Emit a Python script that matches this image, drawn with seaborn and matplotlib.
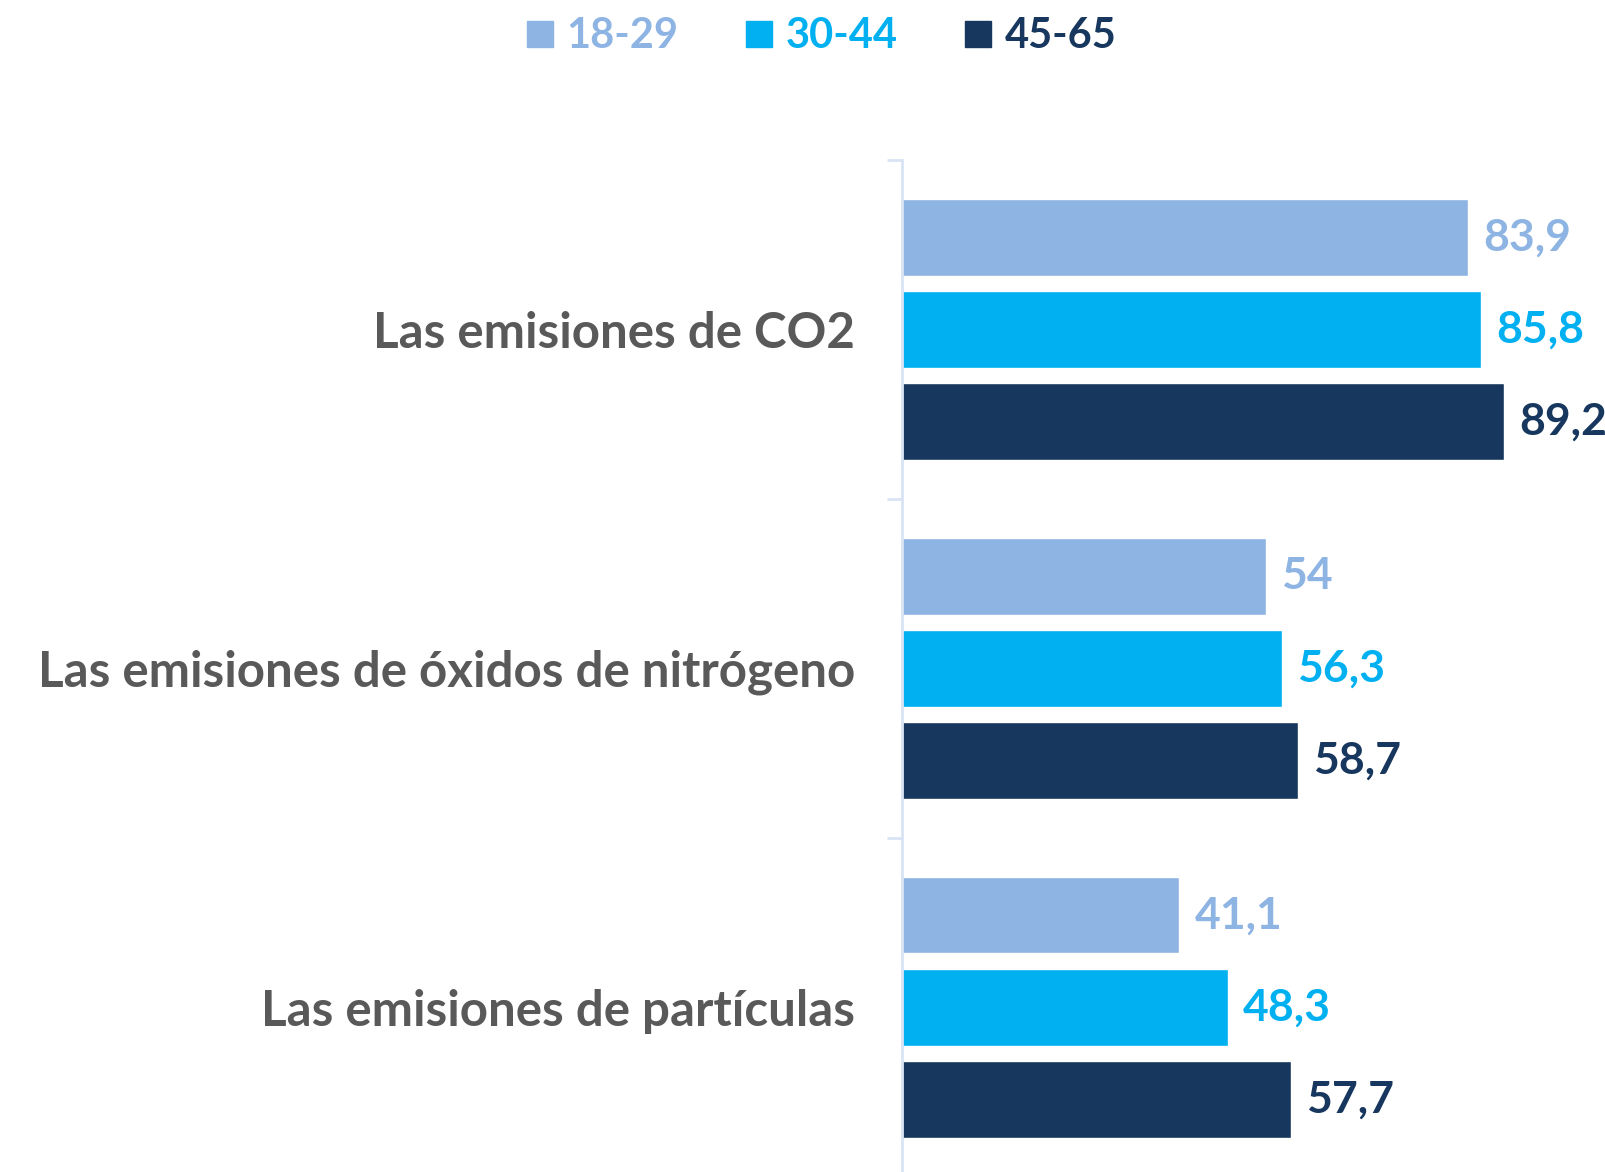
"""Horizontal grouped bars: emissions awareness by age group."""

import matplotlib.pyplot as plt
import pandas as pd
import seaborn as sns
from matplotlib.lines import Line2D

categories = [
    "Las emisiones de CO2",
    "Las emisiones de óxidos de nitrógeno",
    "Las emisiones de partículas",
]
age_groups = ["18-29", "30-44", "45-65"]
values_18_29 = [83.9, 54.0, 41.1]
values_30_44 = [85.8, 56.3, 48.3]
values_45_65 = [89.2, 58.7, 57.7]

colors = ["#8EB4E3", "#00B0F0", "#17375E"]
label_gray = "#595959"
axis_color = "#D9E3F3"


def fmt_es(v):
    s = f"{v:.1f}".replace(".", ",")
    return s[:-2] if s.endswith(",0") else s


rows = []
for grp, vals in zip(age_groups, [values_18_29, values_30_44, values_45_65]):
    for cat, v in zip(categories, vals):
        rows.append({"categoria": cat, "grupo": grp, "valor": v})
df = pd.DataFrame(rows)

sns.set_style("white")
plt.rcParams["font.family"] = ["Lato", "DejaVu Sans"]
plt.rcParams["font.weight"] = "bold"

fig = plt.figure(figsize=(16.06, 11.72), dpi=100)
ax = fig.add_axes([0.5617, -0.0042, 0.4383, 0.8677])

sns.barplot(
    data=df,
    y="categoria",
    x="valor",
    hue="grupo",
    order=categories,
    hue_order=age_groups,
    palette=dict(zip(age_groups, colors)),
    orient="h",
    width=0.816,
    gap=0.17,
    saturation=1,
    legend=False,
    ax=ax,
)

# value labels in series colour
for cont, col in zip(ax.containers, colors):
    ax.bar_label(
        cont,
        labels=[fmt_es(b.get_width()) for b in cont],
        padding=11,
        color=col,
        fontsize=32,
        fontweight="bold",
    )

ax.set_xlim(0, 104.4)
ax.set_ylim(2.5, -0.5)
ax.set_xlabel("")
ax.set_ylabel("")
ax.set_xticks([])

# category labels without ticks, separators as minor ticks
ax.set_yticks(range(len(categories)))
ax.set_yticklabels(categories, fontsize=35.5, fontweight="bold", color=label_gray)
ax.set_yticks([-0.5, 0.5, 1.5, 2.5], minor=True)
ax.tick_params(axis="y", which="major", length=0, pad=34)
ax.tick_params(axis="y", which="minor", length=11, width=2, color=axis_color, left=True)

for side in ["top", "right", "bottom"]:
    ax.spines[side].set_visible(False)
ax.spines["left"].set_color(axis_color)
ax.spines["left"].set_linewidth(2)

handles = [
    Line2D([], [], marker="s", linestyle="", markersize=18.5, color=c)
    for c in colors
]
fig.legend(
    handles,
    age_groups,
    loc="center",
    bbox_to_anchor=(0.5105, 0.969),
    ncol=3,
    frameon=False,
    labelcolor=colors,
    handlelength=0.8,
    handletextpad=0.22,
    columnspacing=1.55,
    prop={"weight": "bold", "size": 30},
)

fig.savefig("out.png", dpi=100)
